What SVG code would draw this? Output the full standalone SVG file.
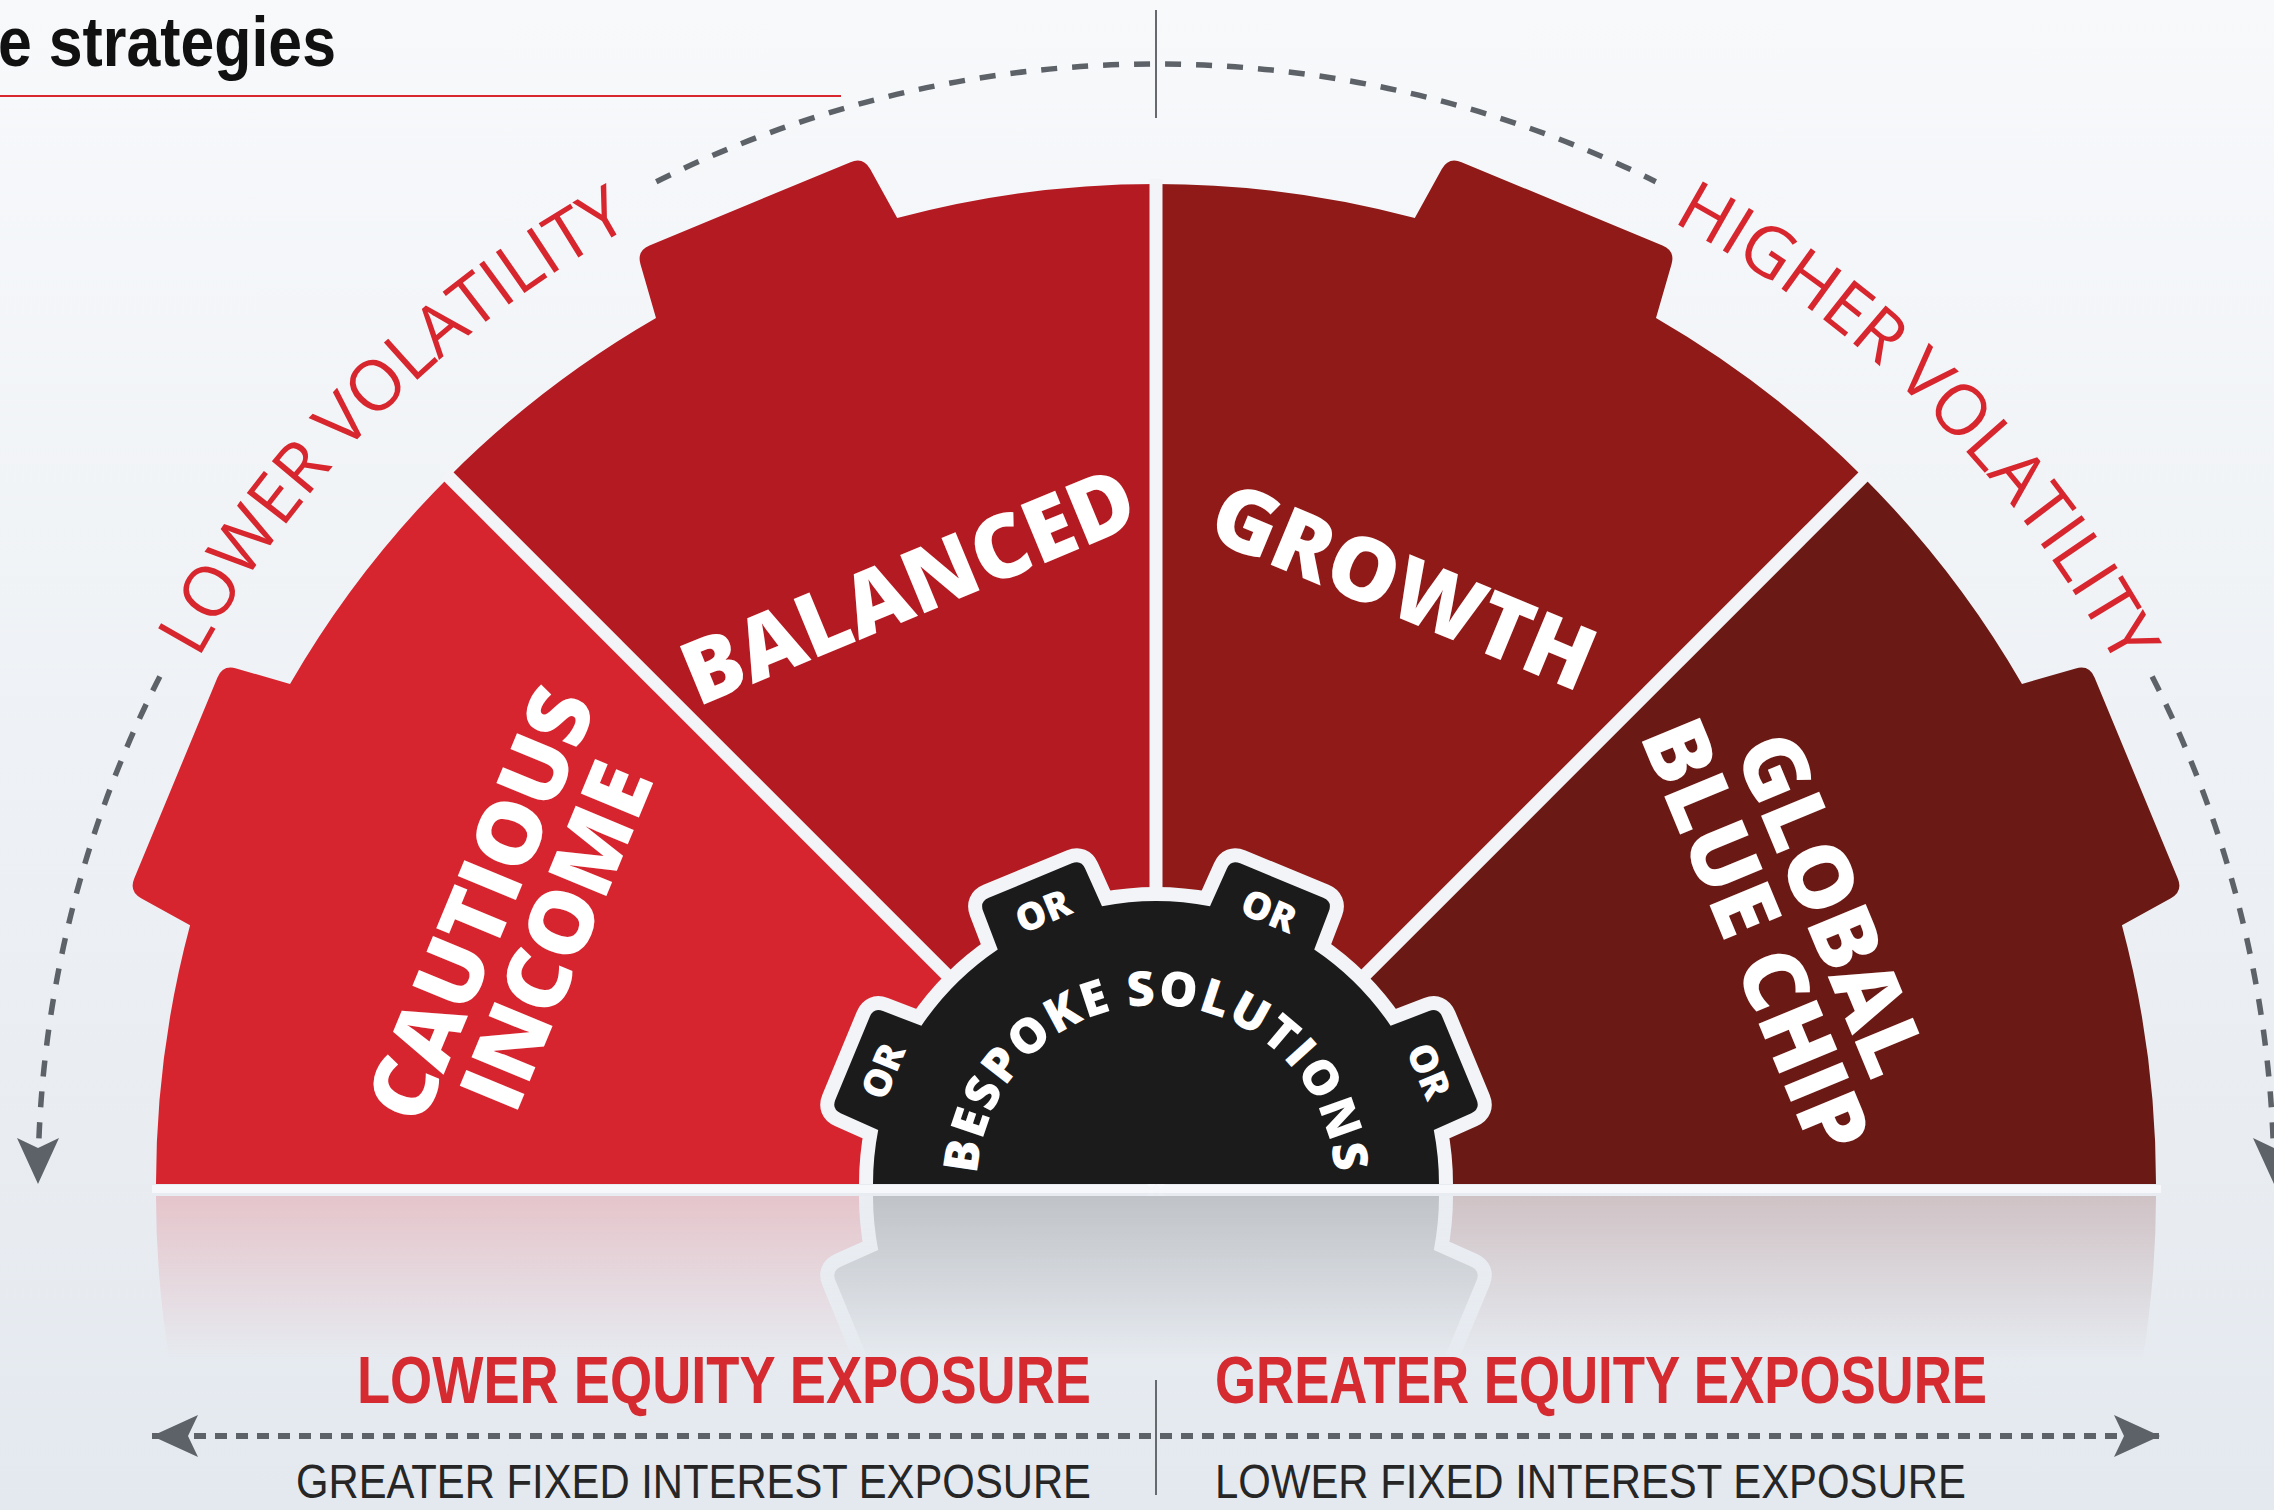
<svg xmlns="http://www.w3.org/2000/svg" xmlns:xlink="http://www.w3.org/1999/xlink" width="2274" height="1510" viewBox="0 0 2274 1510">
  <defs>
    <style>
      .seg-label { font-family: "Open Sans", "Liberation Sans", sans-serif; font-weight: 800; font-size: 88px; fill: #ffffff; text-anchor: middle; }
      .or-label { font-family: "Open Sans", "Liberation Sans", sans-serif; font-weight: 800; font-size: 38px; fill: #ffffff; text-anchor: middle; }
      .bespoke { font-family: "Open Sans", "Liberation Sans", sans-serif; font-weight: 800; font-size: 48px; fill: #ffffff; }
      .vol { font-family: "Open Sans", "Liberation Sans", sans-serif; font-weight: 400; font-size: 70px; fill: #d7262e; }
      .equity { font-family: "Liberation Sans", Arial, sans-serif; font-weight: 700; font-size: 66px; fill: #d42a30; }
      .fixed { font-family: "Liberation Sans", Arial, sans-serif; font-weight: 400; font-size: 49px; fill: #262626; }
      .title { font-family: "Liberation Sans", Arial, sans-serif; font-weight: 700; font-size: 70px; fill: #111111; }
      .dash-arc { fill: none; stroke: #5d6168; stroke-width: 5.5; stroke-dasharray: 16 15; }
      .dash-line { fill: none; stroke: #5d6168; stroke-width: 6; stroke-dasharray: 12 9; }
      .gap { stroke: #f2f4f7; stroke-width: 13; }
      .thin { stroke: #66696e; stroke-width: 2; fill: none; }
    </style>
    <linearGradient id="bg" x1="0" y1="0" x2="0" y2="1">
      <stop offset="0" stop-color="#f7f9fb"/>
      <stop offset="0.5" stop-color="#eef1f5"/>
      <stop offset="1" stop-color="#e4e9ef"/>
    </linearGradient>
    <linearGradient id="fade" gradientUnits="userSpaceOnUse" x1="0" y1="1192" x2="0" y2="1360">
      <stop offset="0" stop-color="#ffffff" stop-opacity="1"/>
      <stop offset="1" stop-color="#ffffff" stop-opacity="0"/>
    </linearGradient>
    <mask id="reflect-mask" maskUnits="userSpaceOnUse" x="0" y="1184" width="2274" height="200">
      <rect x="0" y="1184" width="2274" height="200" fill="url(#fade)"/>
    </mask>
    <clipPath id="above-base">
      <rect x="0" y="0" width="2274" height="1184"/>
    </clipPath>
    <marker id="arrow" markerUnits="userSpaceOnUse" markerWidth="60" markerHeight="50" viewBox="-50 -25 60 50" refX="0" refY="0" orient="auto-start-reverse" overflow="visible">
      <path d="M0,0 L-46,-21 L-36,0 L-46,21 Z" fill="#5d6168" stroke="none"/>
    </marker>
    <path id="lower-vol-path" d="M80.59,994.38 A1092,1092 0 0 1 966.38,108.59"/>
    <path id="higher-vol-path" d="M1345.62,108.59 A1092,1092 0 0 1 2231.41,994.38"/>
    <!-- hub caption baseline: a long arc centred on the top of the hub -->
    <path id="bespoke-path" d="M987.73,1245.25 A179,179 0 1 1 1324.27,1245.25"/>
  </defs>

  <!-- backdrop -->
  <rect x="0" y="0" width="2274" height="1510" fill="url(#bg)"/>

  <!-- heading -->
  <g id="title">
    <text class="title" x="-2" y="66" textLength="338" lengthAdjust="spacingAndGlyphs">e strategies</text>
    <path d="M0,96 H841" stroke="#d9272f" stroke-width="2"/>
  </g>

  <!-- wheel shapes (segments, gaps, hub) -->
  <g id="wheel">
    <path id="seg-cautious" fill="#d7252f" d="M1156,1184 L156,1184 A1000,1000 0 0 1 190.07,925.18 L141.12,898.17 Q128.86,891.41 134.22,878.48 L217.45,677.52 Q222.81,664.59 236.26,668.47 L290.03,684 A1000,1000 0 0 1 448.89,476.89 Z"/>
    <path id="seg-balanced" fill="#b41a21" d="M1156,1184 L448.89,476.89 A1000,1000 0 0 1 656,317.97 L640.48,264.26 Q636.59,250.81 649.52,245.45 L850.48,162.22 Q863.41,156.86 870.17,169.12 L897.18,218.07 A1000,1000 0 0 1 1156,184 Z"/>
    <path id="seg-growth" fill="#8f1a18" d="M1156,1184 L1156,184 A1000,1000 0 0 1 1414.82,218.07 L1441.83,169.12 Q1448.59,156.86 1461.52,162.22 L1662.48,245.45 Q1675.41,250.81 1671.52,264.26 L1656,317.97 A1000,1000 0 0 1 1863.11,476.89 Z"/>
    <path id="seg-global" fill="#6b1914" d="M1156,1184 L1863.11,476.89 A1000,1000 0 0 1 2021.97,684 L2075.74,668.47 Q2089.19,664.59 2094.55,677.52 L2177.78,878.48 Q2183.14,891.41 2170.88,898.17 L2121.93,925.18 A1000,1000 0 0 1 2156,1184 Z"/>
    <g id="gaps" class="gap">
      <line x1="1156" y1="1184" x2="445.36" y2="473.36"/>
      <line x1="1156" y1="1184" x2="1156" y2="179"/>
      <line x1="1156" y1="1184" x2="1866.64" y2="473.36"/>
    </g>
    <path id="hub" clip-path="url(#above-base)" fill="#1b1b1b" stroke="#f2f4f7" stroke-width="28" stroke-linejoin="round" paint-order="stroke" d="M873,1184 A283,283 0 0 1 878.20,1130.00 L840.66,1113.18 Q831.53,1109.09 835.36,1099.85 L869.77,1016.78 Q873.60,1007.54 882.95,1011.10 L921.38,1025.75 A283,283 0 0 1 997.75,949.38 L983.10,910.95 Q979.54,901.60 988.78,897.77 L1071.85,863.36 Q1081.09,859.53 1085.18,868.66 L1102.00,906.20 A283,283 0 0 1 1210.00,906.20 L1226.82,868.66 Q1230.91,859.53 1240.15,863.36 L1323.22,897.77 Q1332.46,901.60 1328.90,910.95 L1314.25,949.38 A283,283 0 0 1 1390.62,1025.75 L1429.05,1011.10 Q1438.40,1007.54 1442.23,1016.78 L1476.64,1099.85 Q1480.47,1109.09 1471.34,1113.18 L1433.80,1130.00 A283,283 0 0 1 1439,1184 Z"/>
  </g>

  <!-- mirrored floor reflection of the wheel -->
  <g id="reflection" mask="url(#reflect-mask)" opacity="0.2">
    <use href="#wheel" xlink:href="#wheel" transform="matrix(1 0 0 -1 0 2380)"/>
  </g>
  <rect x="152" y="1185" width="2009" height="8" fill="#f8f9fb" opacity="0.85"/>

  <!-- segment labels -->
  <g id="label-cautious" transform="translate(518.5,919.9) rotate(-67.5)">
    <text class="seg-label" x="0" y="-10">CAUTIOUS</text>
    <text class="seg-label" x="0" y="72">INCOME</text>
  </g>
  <g id="label-balanced">
    <text class="seg-label" transform="translate(908.4,586.2) rotate(-22.5)" x="0" y="31">BALANCED</text>
  </g>
  <g id="label-growth">
    <text class="seg-label" transform="translate(1403.6,586.2) rotate(22.5)" x="0" y="31">GROWTH</text>
  </g>
  <g id="label-global" transform="translate(1793.5,919.9) rotate(67.5)">
    <text class="seg-label" x="0" y="-10">GLOBAL</text>
    <text class="seg-label" x="0" y="72">BLUE CHIP</text>
  </g>

  <!-- hub labels -->
  <g id="label-bespoke">
    <text class="bespoke" letter-spacing="2"><textPath href="#bespoke-path" xlink:href="#bespoke-path" startOffset="50%" text-anchor="middle">BESPOKE SOLUTIONS</textPath></text>
    <text class="or-label" transform="translate(882.53,1070.73) rotate(-67.5)" y="14">OR</text>
    <text class="or-label" transform="translate(1042.73,910.53) rotate(-22.5)" y="14">OR</text>
    <text class="or-label" transform="translate(1269.27,910.53) rotate(22.5)" y="14">OR</text>
    <text class="or-label" transform="translate(1429.47,1070.73) rotate(67.5)" y="14">OR</text>
  </g>

  <!-- volatility scale -->
  <g id="volatility">
    <text class="vol"><textPath href="#lower-vol-path" xlink:href="#lower-vol-path" startOffset="50%" text-anchor="middle" textLength="620" lengthAdjust="spacing">LOWER VOLATILITY</textPath></text>
    <text class="vol"><textPath href="#higher-vol-path" xlink:href="#higher-vol-path" startOffset="50%" text-anchor="middle" textLength="640" lengthAdjust="spacing">HIGHER VOLATILITY</textPath></text>
  </g>

  <!-- connectors -->
  <g id="connectors">
    <path class="thin" d="M1156,10 V118"/>
    <path class="dash-arc" d="M656.26,181.67 A1120,1120 0 0 1 1655.74,181.67"/>
    <path class="dash-arc" d="M159.85,676.44 A1118,1118 0 0 0 38,1184" marker-end="url(#arrow)"/>
    <path class="dash-arc" d="M2152.15,676.44 A1118,1118 0 0 1 2274,1184" marker-end="url(#arrow)"/>
    <path class="dash-line" d="M152,1436 H2160" marker-start="url(#arrow)" marker-end="url(#arrow)"/>
    <path class="thin" d="M1156,1380 V1495"/>
  </g>

  <!-- exposure captions -->
  <g id="exposure">
    <text class="equity" x="357" y="1403" textLength="734" lengthAdjust="spacingAndGlyphs">LOWER EQUITY EXPOSURE</text>
    <text class="equity" x="1215" y="1403" textLength="772" lengthAdjust="spacingAndGlyphs">GREATER EQUITY EXPOSURE</text>
    <text class="fixed" x="296" y="1498" textLength="795" lengthAdjust="spacingAndGlyphs">GREATER FIXED INTEREST EXPOSURE</text>
    <text class="fixed" x="1215" y="1498" textLength="751" lengthAdjust="spacingAndGlyphs">LOWER FIXED INTEREST EXPOSURE</text>
  </g>
</svg>
